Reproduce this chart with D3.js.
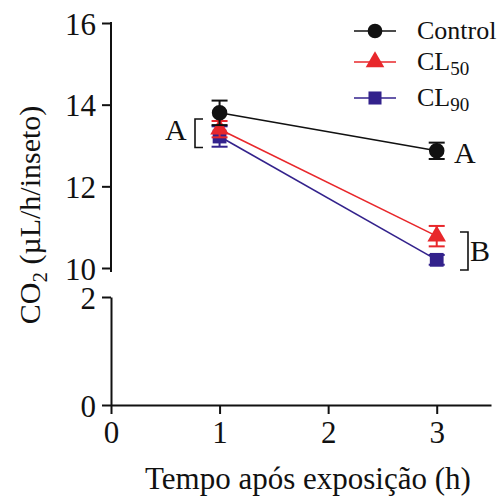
<!DOCTYPE html>
<meta charset="utf-8">
<title>CO2</title>
<style>
body { margin: 0; background: #fff; }
text { font-family: "Liberation Serif", "DejaVu Serif", "Times New Roman", serif; fill: #111; }
</style>
<script src="https://d3js.org/d3.v7.min.js"></script>
<div id="chart"></div>
<script>
// data
var hours = [1, 3];
var control = [13.8, 12.87];
var controlErr = [0.3, 0.2];
var cl50 = [13.4, 10.78];
var cl50Err = [0.2, 0.25];
var cl90 = [13.22, 10.2];
var cl90Err = [0.25, 0.12];
var xTicks = [0, 1, 2, 3];
var yTicksTop = [10, 12, 14, 16];
var yTicksBottom = [0, 2];

var serif = "'Liberation Serif', 'DejaVu Serif', serif";

var series = [
  {name: "Control", values: control, err: controlErr, color: "#111", shape: d3.symbolCircle},
  {name: "CL", sub: "50", values: cl50, err: cl50Err, color: "#e8272b", shape: d3.symbolTriangle},
  {name: "CL", sub: "90", values: cl90, err: cl90Err, color: "#33228c", shape: d3.symbolSquare}
];

var width = 501, height = 503;

var svg = d3.select("#chart").append("svg")
  .attr("width", width)
  .attr("height", height);

// scales: broken y axis, two pieces
var x = d3.scaleLinear().domain([0, 3.5]).range([111, 491]);
var yTop = d3.scaleLinear().domain([10, 16]).range([268, 23]);
var yBot = d3.scaleLinear().domain([0, 2]).range([405, 297]);
var fmt = d3.format("d");

// axes
var axTop = svg.append("g")
  .attr("transform", "translate(" + x(0) + ",0)")
  .call(d3.axisLeft(yTop).tickValues(yTicksTop).tickFormat(fmt).tickSize(9).tickPadding(6).tickSizeOuter(0));
var axBot = svg.append("g")
  .attr("transform", "translate(" + x(0) + ",0)")
  .call(d3.axisLeft(yBot).tickValues(yTicksBottom).tickFormat(fmt).tickSize(9).tickPadding(6).tickSizeOuter(0));
var axX = svg.append("g")
  .attr("transform", "translate(0," + yBot(0) + ")")
  .call(d3.axisBottom(x).tickValues(xTicks).tickFormat(fmt).tickSize(9).tickPadding(7).tickSizeOuter(0));

// extend the upper axis line slightly past 10, as in the break
axTop.select(".domain").attr("d", "M0," + (yTop(16) - 1) + "V" + (yTop(10) + 4));

svg.selectAll(".domain, .tick line")
  .attr("stroke", "#111").attr("stroke-width", 2);
svg.selectAll("g").attr("font-family", serif);
svg.selectAll(".tick text")
  .style("font-family", serif)
  .style("font-size", "31px")
  .attr("fill", "#222");
axTop.selectAll(".tick text").attr("dy", "0.36em");
axBot.selectAll(".tick text").attr("dy", "0.36em");

// lines
var line = d3.line()
  .x(function(d, i) { return x(hours[i]); })
  .y(function(d) { return yTop(d); });

series.forEach(function(s) {
  svg.append("path")
    .datum(s.values)
    .attr("d", line)
    .attr("fill", "none")
    .attr("stroke", s.color)
    .attr("stroke-width", 1.6);
});

// error bars and markers (drawn in reverse so control sits on top)
series.slice().reverse().forEach(function(s) {
  var g = svg.append("g");
  s.values.forEach(function(v, i) {
    var cx = x(hours[i]);
    var lo = yTop(v - s.err[i]), hi = yTop(v + s.err[i]);
    g.append("line").attr("x1", cx).attr("x2", cx).attr("y1", lo).attr("y2", hi)
      .attr("stroke", s.color).attr("stroke-width", 2);
    [lo, hi].forEach(function(yy) {
      g.append("line").attr("x1", cx - 8).attr("x2", cx + 8).attr("y1", yy).attr("y2", yy)
        .attr("stroke", s.color).attr("stroke-width", 2);
    });
    g.append("path")
      .attr("d", d3.symbol().type(s.shape).size(s.shape === d3.symbolTriangle ? 150 : 190)())
      .attr("transform", "translate(" + cx + "," + yTop(v) + ")")
      .attr("fill", s.color);
  });
});

// legend
var legY = [31, 62, 98];
series.forEach(function(s, i) {
  var g = svg.append("g").attr("transform", "translate(0," + legY[i] + ")");
  g.append("line").attr("x1", 354).attr("x2", 396).attr("y1", 0).attr("y2", 0)
    .attr("stroke", s.color).attr("stroke-width", 1.6);
  g.append("path")
    .attr("d", d3.symbol().type(s.shape).size(s.shape === d3.symbolTriangle ? 150 : 170)())
    .attr("transform", "translate(375,0)")
    .attr("fill", s.color);
  var t = g.append("text").attr("x", 417).attr("y", 8).style("font-family", serif).style("font-size", "26px");
  t.append("tspan").text(s.name);
  if (s.sub) t.append("tspan").attr("dy", 5).style("font-size", "19px").text(s.sub);
});

// significance letters
svg.append("text").attr("x", 165).attr("y", 140).style("font-family", serif).style("font-size", "30px").text("A");
svg.append("path")
  .attr("d", "M203," + yTop(13.65) + "H195V" + yTop(12.95) + "H203")
  .attr("fill", "none").attr("stroke", "#111").attr("stroke-width", 1.6);
svg.append("text").attr("x", 454).attr("y", 163).style("font-family", serif).style("font-size", "30px").text("A");
svg.append("path")
  .attr("d", "M460," + yTop(10.88) + "H468V" + yTop(9.95) + "H460")
  .attr("fill", "none").attr("stroke", "#111").attr("stroke-width", 1.6);
svg.append("text").attr("x", 470).attr("y", 261).style("font-family", serif).style("font-size", "30px").text("B");

// axis titles
svg.append("text")
  .attr("transform", "translate(40,215) rotate(-90)")
  .attr("text-anchor", "middle")
  .style("font-family", serif)
  .style("font-size", "30px")
  .call(function(t) {
    t.append("tspan").text("CO");
    t.append("tspan").attr("dy", 7).style("font-size", "21px").text("2");
    t.append("tspan").attr("dy", -7).text(" (\u00b5L/h/inseto)");
  });

svg.append("text")
  .attr("x", 308).attr("y", 489)
  .attr("text-anchor", "middle")
  .style("font-family", serif)
  .style("font-size", "31px")
  .text("Tempo após exposição (h)");
</script>
